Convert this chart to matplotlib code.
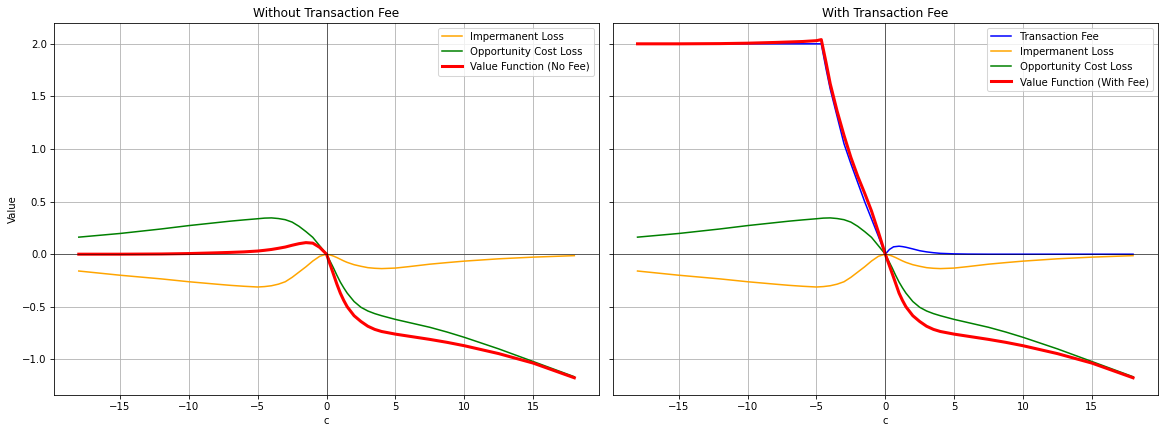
import numpy as np
import matplotlib
matplotlib.use("Agg")
import matplotlib.pyplot as plt

# shared c grid for loss curves and no-fee value function
c = [-18, -15, -12, -10, -8, -7, -6, -5, -4.5, -4, -3.5, -3, -2.5, -2, -1.5, -1, -0.5, 0,
     0.25, 0.5, 0.75, 1, 1.25, 1.5, 2, 2.5, 3, 3.5, 4, 5, 6, 7.5, 8.75, 10, 12.5, 15, 18]
imp_loss = [-0.160, -0.200, -0.235, -0.262, -0.285, -0.296, -0.305, -0.312, -0.308,
            -0.300, -0.285, -0.262, -0.220, -0.170, -0.120, -0.065, -0.020, 0.0,
            -0.007, -0.018, -0.032, -0.048, -0.064, -0.078, -0.100, -0.115, -0.128,
            -0.134, -0.137, -0.132, -0.118, -0.095, -0.080, -0.066, -0.044, -0.028, -0.014]
opp_loss = [0.162, 0.197, 0.240, 0.272, 0.300, 0.314, 0.326, 0.337, 0.343,
            0.345, 0.339, 0.328, 0.305, 0.265, 0.215, 0.160, 0.080, 0.0,
            -0.065, -0.130, -0.200, -0.265, -0.320, -0.370, -0.450, -0.505, -0.540,
            -0.565, -0.585, -0.620, -0.650, -0.695, -0.740, -0.790, -0.900, -1.020, -1.165]
value_nofee = [0.0, 0.0, 0.002, 0.006, 0.013, 0.017, 0.022, 0.030, 0.037,
               0.045, 0.056, 0.068, 0.085, 0.100, 0.110, 0.105, 0.065, 0.0,
               -0.095, -0.190, -0.285, -0.370, -0.440, -0.500, -0.585, -0.640, -0.685,
               -0.715, -0.735, -0.760, -0.780, -0.810, -0.838, -0.870, -0.945, -1.035, -1.175]

# finer grid around the fee kink
c_fee = [-18, -15, -12, -10, -8, -6, -5, -4.65, -4.3, -4, -3.5, -3, -2.5, -2,
         -1.5, -1, -0.5, 0, 0.3, 0.6, 1, 1.25, 1.5, 2, 2.5, 3, 3.5, 4, 5, 6, 7.5,
         8.75, 10, 12.5, 15, 18]
tx_fee = [2.0, 2.0, 2.0, 2.0, 2.0, 2.0, 2.0, 2.0, 1.76, 1.57, 1.31, 1.05, 0.86, 0.68,
          0.50, 0.335, 0.17, 0.0, 0.045, 0.070, 0.076, 0.072, 0.066, 0.050, 0.033,
          0.022, 0.014, 0.008, 0.003, 0.001, 0.0, 0.0, 0.0, 0.0, 0.0, 0.0]
value_fee = [2.0, 2.0, 2.002, 2.006, 2.013, 2.022, 2.030, 2.040, 1.82, 1.62, 1.36,
             1.13, 0.92, 0.74, 0.58, 0.41, 0.21, 0.0, -0.11, -0.22, -0.37, -0.44,
             -0.50, -0.585, -0.640, -0.685, -0.715, -0.735, -0.760, -0.780, -0.810,
             -0.838, -0.870, -0.945, -1.035, -1.175]

fig, (ax1, ax2) = plt.subplots(1, 2, figsize=(1159 / 73, 426 / 73), dpi=73, sharey=True)
fig.subplots_adjust(left=0.0466, right=0.999, top=0.9467, bottom=0.0735, wspace=0.025)

ax1.plot(c, imp_loss, color="orange", lw=1.5, label="Impermanent Loss")
ax1.plot(c, opp_loss, color="green", lw=1.5, label="Opportunity Cost Loss")
ax1.plot(c, value_nofee, color="red", lw=3, label="Value Function (No Fee)")
ax1.set_title("Without Transaction Fee")
ax1.set_ylabel("Value")

ax2.plot(c_fee, tx_fee, color="blue", lw=1.5, label="Transaction Fee")
ax2.plot(c, imp_loss, color="orange", lw=1.5, label="Impermanent Loss")
ax2.plot(c, opp_loss, color="green", lw=1.5, label="Opportunity Cost Loss")
ax2.plot(c_fee, value_fee, color="red", lw=3, label="Value Function (With Fee)")
ax2.set_title("With Transaction Fee")

for ax in (ax1, ax2):
    ax.axhline(0, color="black", lw=0.5)
    ax.axvline(0, color="black", lw=0.5)
    ax.set_xlabel("c")
    ax.grid(True)
    ax.legend(loc="upper right")

fig.savefig("out.png", dpi=73)
